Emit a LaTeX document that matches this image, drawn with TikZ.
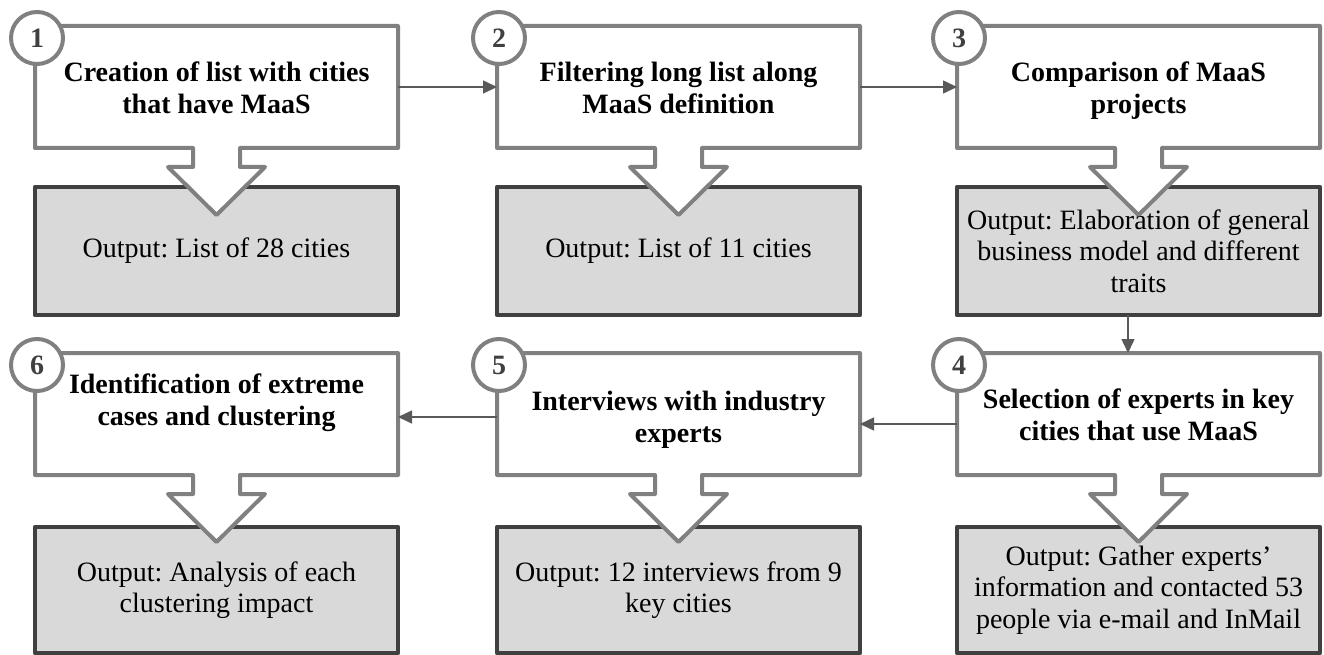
\documentclass[tikz,border=0pt]{standalone}
\usepackage{fontspec}
\setmainfont{Liberation Serif}
\usetikzlibrary{calc,arrows.meta}
\frenchspacing
\definecolor{framegray}{HTML}{808080}
\definecolor{boxgray}{HTML}{D9D9D9}
\definecolor{edgegray}{HTML}{404040}
\definecolor{linkgray}{HTML}{595959}
\tikzset{
  stepbox/.style={rectangle,minimum width=363pt,minimum height=122pt,inner sep=0pt,outer sep=0pt},
  callout/.style={draw=framegray,line width=4pt,fill=white,line join=round},
  outbox/.style={rectangle,draw=edgegray,line width=4.5pt,line join=round,fill=boxgray,minimum width=363pt,
    inner sep=0pt,outer sep=0pt,align=center,font=\fontsize{28}{31.5}\selectfont},
  steptitle/.style={anchor=north,inner sep=0pt,align=center,font=\fontsize{28}{31.5}\selectfont\bfseries},
  stepnum/.style={circle,draw=framegray,line width=4pt,fill=white,minimum size=52pt,inner sep=0pt,
    text=edgegray,font=\fontsize{28}{30}\selectfont\bfseries},
  flow/.style={draw=linkgray,line width=1.5pt,-{Triangle[length=14pt,width=13pt]}}
}

\begin{document}
\begin{tikzpicture}[x=1pt,y=-1pt]
  \useasboundingbox (0,0) rectangle (1324,655);
  % outputs
  \node[outbox,minimum height=128pt] (O1) at (216.5,251) {Output: List of 28 cities};
  \node[outbox,minimum height=128pt] (O2) at (678.5,251) {Output: List of 11 cities};
  \node[outbox,minimum height=128pt] (O3) at (1138.5,251) {Output: Elaboration of general\\business model and different\\traits};
  \node[outbox,minimum height=126pt] (O4) at (1138.5,590) {Output: Gather experts’\\information and contacted 53\\people via e-mail and InMail};
  \node[outbox,minimum height=126pt] (O5) at (678.5,590) {Output: 12 interviews from 9\\key cities};
  \node[outbox,minimum height=126pt] (O6) at (216.5,590) {Output: Analysis of each\\clustering impact};
  % steps
  \node[stepbox] (S1) at (216.5,87) {};
  \node[stepbox] (S2) at (678.5,87) {};
  \node[stepbox] (S3) at (1138.5,87) {};
  \node[stepbox] (S4) at (1138.5,414) {};
  \node[stepbox] (S5) at (678.5,414) {};
  \node[stepbox] (S6) at (216.5,414) {};
  \foreach \s in {S1,S2,S3,S4,S5,S6}
    \draw[callout] (\s.north west) -- (\s.north east) -- (\s.south east)
      -- ($(\s.south)+(23.5,0)$) -- ($(\s.south)+(23.5,19)$) -- ($(\s.south)+(48.5,19)$)
      -- ($(\s.south)+(0,67)$) -- ($(\s.south)+(-48.5,19)$) -- ($(\s.south)+(-23.5,19)$)
      -- ($(\s.south)+(-23.5,0)$) -- (\s.south west) -- cycle;
  % numbers
  \node[stepnum] (N1) at (37,38) {1};
  \node[stepnum] (N2) at (499,38) {2};
  \node[stepnum] (N3) at (959,38) {3};
  \node[stepnum] (N4) at (959,365) {4};
  \node[stepnum] (N5) at (499,365) {5};
  \node[stepnum] (N6) at (37,365) {6};
  % titles
  \node[steptitle] (T1) at (216.5,62) {Creation of list with cities\\that have MaaS};
  \node[steptitle] (T2) at (678.5,62) {Filtering long list along\\MaaS definition};
  \node[steptitle] (T3) at (1138.5,62) {Comparison of MaaS\\projects};
  \node[steptitle] (T4) at (1138.5,389) {Selection of experts in key\\cities that use MaaS};
  \node[steptitle] (T5) at (678.5,391) {Interviews with industry\\experts};
  \node[steptitle] (T6) at (216.5,374) {Identification of extreme\\cases and clustering};
  % links
  \draw[flow] (S1) -- (S2);
  \draw[flow] (S2) -- (S3);
  \draw[flow] ([xshift=-10.5pt]O3.south) -- ([xshift=-10.5pt]S4.north);
  \draw[flow] ([yshift=-10pt]S4.west) -- ([yshift=-10pt]S5.east);
  \draw[flow] ([yshift=-3pt]S5.west) -- ([yshift=-3pt]S6.east);
\end{tikzpicture}
\end{document}
